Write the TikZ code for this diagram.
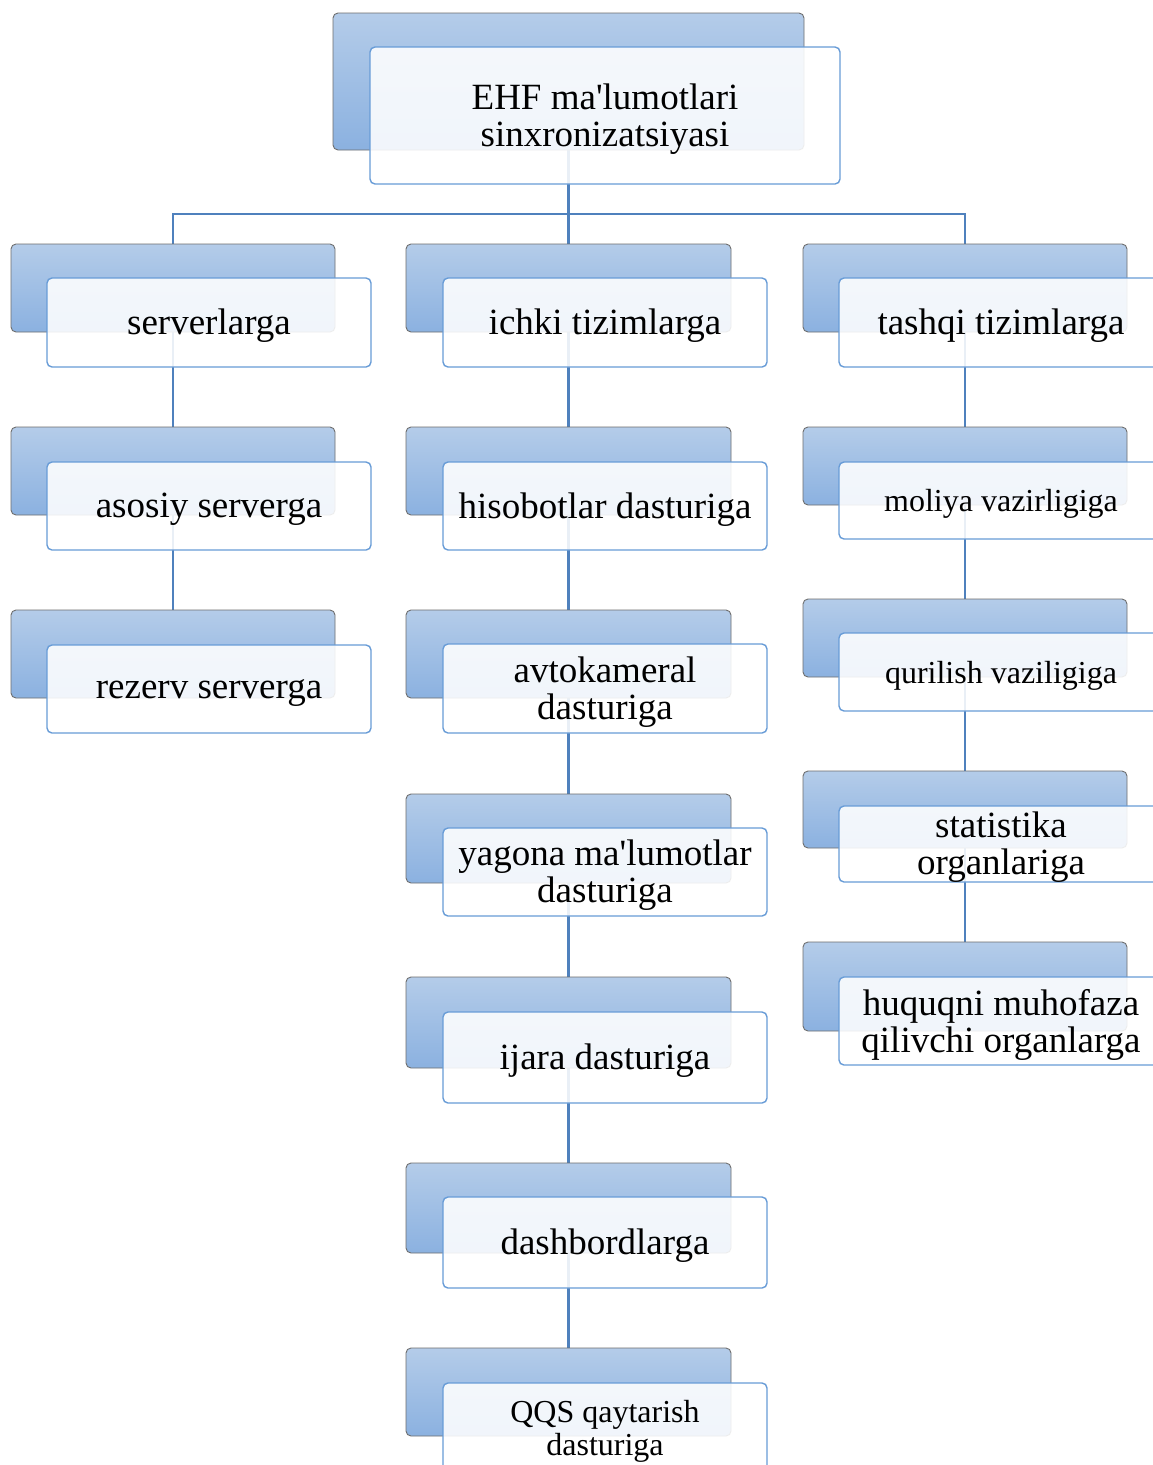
\documentclass[tikz,border=0pt]{standalone}
\usepackage{fontspec}
\setmainfont{Liberation Serif}
\usetikzlibrary{calc}
\definecolor{backtop}{RGB}{180,204,233}
\definecolor{backbot}{RGB}{139,177,224}
\definecolor{backline}{RGB}{110,110,110}
\definecolor{frontline}{RGB}{104,156,215}
\definecolor{connline}{RGB}{79,129,189}
\newcommand{\bigtxt}{\fontsize{37}{37}\selectfont}
\newcommand{\smalltxt}{\fontsize{32}{33}\selectfont}
\newcommand{\ap}{\textquotesingle}
\pgfdeclarelayer{bg}
\pgfdeclarelayer{paper}
\pgfsetlayers{paper,bg,main}
\tikzset{
  backbox/.style={rectangle, rounded corners=5pt, draw=backline, line width=0.9pt,
    top color=backtop, bottom color=backbot, inner sep=0pt, outer sep=0pt},
  frontbox/.style={rectangle, rounded corners=5pt, draw=frontline, line width=1.4pt,
    fill=white, fill opacity=0.88, draw opacity=1, inner sep=0pt, outer sep=0pt},
  txt/.style={align=center, font=\bigtxt, inner sep=0pt, yshift=-3.5pt},
  conn/.style={draw=connline, line width=2.6pt},
}
\begin{document}
\begin{tikzpicture}[x=1pt, y=-1pt]
\clip (0,0) rectangle (1153,1465);
\begin{pgfonlayer}{paper}
\fill[white] (0,0) rectangle (1153,1465);
\end{pgfonlayer}
\coordinate (bar) at (0,214);
% root
\node[backbox, minimum width=471pt, minimum height=137pt] (r0b) at (568.5,81.5) {};
\node[frontbox, minimum width=470pt, minimum height=137pt] (r0f) at (605,115.5) {};
\node[txt] (r0t) at (r0f.center) {EHF ma\ap lumotlari\\sinxronizatsiyasi};
% left column
\node[backbox, minimum width=324pt, minimum height=88pt] (a0b) at (173,288) {};
\node[frontbox, minimum width=324pt, minimum height=89pt] (a0f) at (209,322.5) {};
\node[txt] (a0t) at (a0f.center) {serverlarga};
\node[backbox, minimum width=324pt, minimum height=88pt] (a1b) at (173,471) {};
\node[frontbox, minimum width=324pt, minimum height=88pt] (a1f) at (209,506) {};
\node[txt] (a1t) at (a1f.center) {asosiy serverga};
\node[backbox, minimum width=324pt, minimum height=88pt] (a2b) at (173,654) {};
\node[frontbox, minimum width=324pt, minimum height=88pt] (a2f) at (209,689) {};
\node[txt] (a2t) at (a2f.center) {rezerv serverga};
% middle column
\node[backbox, minimum width=325pt, minimum height=88pt] (b0b) at (568.5,288) {};
\node[frontbox, minimum width=324pt, minimum height=89pt] (b0f) at (605,322.5) {};
\node[txt] (b0t) at (b0f.center) {ichki tizimlarga};
\node[backbox, minimum width=325pt, minimum height=88pt] (b1b) at (568.5,471) {};
\node[frontbox, minimum width=324pt, minimum height=88pt] (b1f) at (605,506) {};
\node[txt] (b1t) at (b1f.center) {hisobotlar dasturiga};
\node[backbox, minimum width=325pt, minimum height=88pt] (b2b) at (568.5,654) {};
\node[frontbox, minimum width=324pt, minimum height=89pt] (b2f) at (605,688.5) {};
\node[txt] (b2t) at (b2f.center) {avtokameral\\dasturiga};
\node[backbox, minimum width=325pt, minimum height=89pt] (b3b) at (568.5,838.5) {};
\node[frontbox, minimum width=324pt, minimum height=88pt] (b3f) at (605,872) {};
\node[txt] (b3t) at (b3f.center) {yagona ma\ap lumotlar\\dasturiga};
\node[backbox, minimum width=325pt, minimum height=91pt] (b4b) at (568.5,1022.5) {};
\node[frontbox, minimum width=324pt, minimum height=91pt] (b4f) at (605,1057.5) {};
\node[txt] (b4t) at (b4f.center) {ijara dasturiga};
\node[backbox, minimum width=325pt, minimum height=90pt] (b5b) at (568.5,1208) {};
\node[frontbox, minimum width=324pt, minimum height=91pt] (b5f) at (605,1242.5) {};
\node[txt] (b5t) at (b5f.center) {dashbordlarga};
\node[backbox, minimum width=325pt, minimum height=88pt] (b6b) at (568.5,1392) {};
\node[frontbox, minimum width=324pt, minimum height=89pt] (b6f) at (605,1427.5) {};
\node[txt, font=\smalltxt] (b6t) at (b6f.center) {QQS qaytarish\\dasturiga};
% right column
\node[backbox, minimum width=324pt, minimum height=88pt] (c0b) at (965,288) {};
\node[frontbox, minimum width=324pt, minimum height=89pt] (c0f) at (1001,322.5) {};
\node[txt] (c0t) at (c0f.center) {tashqi tizimlarga};
\node[backbox, minimum width=324pt, minimum height=78pt] (c1b) at (965,466) {};
\node[frontbox, minimum width=324pt, minimum height=77pt] (c1f) at (1001,500.5) {};
\node[txt, font=\smalltxt] (c1t) at (c1f.center) {moliya vazirligiga};
\node[backbox, minimum width=324pt, minimum height=78pt] (c2b) at (965,638) {};
\node[frontbox, minimum width=324pt, minimum height=78pt] (c2f) at (1001,672) {};
\node[txt, font=\smalltxt] (c2t) at (c2f.center) {qurilish vaziligiga};
\node[backbox, minimum width=324pt, minimum height=77pt] (c3b) at (965,809.5) {};
\node[frontbox, minimum width=324pt, minimum height=76pt] (c3f) at (1001,844) {};
\node[txt] (c3t) at (c3f.center) {statistika\\organlariga};
\node[backbox, minimum width=324pt, minimum height=89pt] (c4b) at (965,986.5) {};
\node[frontbox, minimum width=324pt, minimum height=88pt] (c4f) at (1001,1021) {};
\node[txt] (c4t) at (c4f.center) {huquqni muhofaza\\qilivchi organlarga};
% connectors
\begin{pgfonlayer}{bg}
\draw[conn] (r0b.center) -- (r0b.center |- bar) -| (a0b.center);
\draw[conn] (r0b.center) -- (b0b.center);
\draw[conn] (r0b.center |- bar) -| (c0b.center);
\draw[conn] (a0b.center) -- (a1b.center) -- (a2b.center);
\draw[conn] (b0b.center) -- (b1b.center) -- (b2b.center) -- (b3b.center) -- (b4b.center) -- (b5b.center) -- (b6b.center);
\draw[conn] (c0b.center) -- (c1b.center) -- (c2b.center) -- (c3b.center) -- (c4b.center);
\end{pgfonlayer}
\end{tikzpicture}
\end{document}
